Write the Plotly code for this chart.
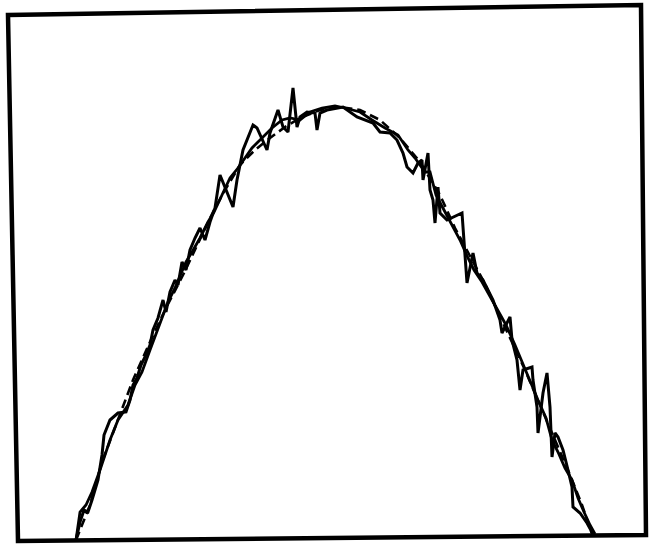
import plotly.graph_objects as go

# Noisy trace A
xa = [76, 80, 84, 88, 92, 98, 102, 104, 110, 118, 126, 130, 133, 137, 141, 146, 150, 153, 158, 163,
      166, 170, 175, 178, 182, 186, 190, 195, 200, 205, 210, 215, 220, 227, 233, 237, 243, 253, 257, 267,
      270, 278, 283, 288, 293, 297, 300, 307, 315, 317, 320, 327, 343, 357, 373, 380, 390, 397, 403, 407,
      413, 418, 422, 423, 428, 430, 433, 435, 438, 440, 447, 462, 467, 473, 477, 483, 493, 500, 502, 510,
      512, 517, 520, 523, 532, 533, 537, 538, 543, 547, 550, 552, 555, 558, 563, 568, 572, 573, 580, 587, 593]
ya = [0, 18, 30, 28, 40, 60, 85, 105, 120, 127, 128, 140, 155, 162, 175, 185, 195, 210, 222, 240,
      228, 248, 260, 255, 278, 270, 290, 302, 312, 300, 318, 332, 365, 347, 333, 360, 390, 415, 412, 390,
      407, 430, 413, 408, 452, 413, 423, 428, 427, 410, 427, 430, 433, 423, 417, 408, 407, 400, 387, 373,
      367, 377, 380, 360, 387, 350, 340, 317, 353, 327, 320, 327, 257, 287, 267, 260, 240, 220, 207, 223,
      200, 180, 150, 170, 173, 160, 133, 107, 147, 167, 133, 83, 107, 103, 90, 70, 53, 33, 27, 17, 6]

# Noisy trace B
xb = [76, 80, 86, 92, 100, 110, 118, 128, 135, 142, 150, 156, 162, 168, 175, 180, 186, 192, 200, 208,
      214, 222, 230, 238, 245, 252, 262, 272, 282, 290, 300, 310, 322, 335, 345, 360, 372, 385, 398, 408,
      415, 425, 430, 436, 444, 452, 460, 468, 474, 482, 490, 498, 506, 515, 522, 530, 538, 546, 552, 558,
      565, 572, 578, 584, 590, 595]
yb = [0, 28, 35, 48, 70, 100, 120, 135, 155, 168, 190, 205, 222, 238, 252, 264, 278, 288, 302, 318,
      328, 345, 362, 372, 382, 392, 402, 412, 420, 422, 420, 428, 432, 434, 432, 428, 420, 412, 405, 390,
      382, 368, 368, 345, 330, 315, 300, 282, 270, 258, 244, 230, 215, 195, 178, 160, 140, 122, 100, 88,
      72, 60, 42, 28, 15, 6]

# Smooth dashed fit
xd = [76, 90, 102, 118, 133, 150, 165, 183, 200, 213, 225, 240, 255, 270, 285, 300, 320, 340, 360, 380,
      400, 420, 440, 455, 470, 485, 497, 510, 525, 540, 555, 570, 582, 592]
yd = [0, 35, 78, 120, 160, 198, 230, 265, 300, 328, 350, 375, 390, 402, 413, 422, 430, 433, 430, 420,
      402, 378, 345, 312, 284, 256, 230, 202, 170, 135, 100, 65, 35, 6]

fig = go.Figure()
fig.add_trace(go.Scatter(x=xb, y=yb, mode="lines", line=dict(color="black", width=2.8), hoverinfo="skip"))
fig.add_trace(go.Scatter(x=xa, y=ya, mode="lines", line=dict(color="black", width=3), hoverinfo="skip"))
fig.add_trace(go.Scatter(x=xd, y=yd, mode="lines", line=dict(color="black", width=2.6, dash="9px,5px"), hoverinfo="skip"))

# Slightly tilted frame (scanned page)
fig.add_shape(type="path", path="M 8 525 L 641 535 L 646 5 L 18 -1 Z",
              line=dict(color="black", width=4.5), xref="x", yref="y")

fig.update_layout(
    width=649, height=545,
    margin=dict(l=0, r=0, t=0, b=0),
    paper_bgcolor="white", plot_bgcolor="white",
    showlegend=False,
    xaxis=dict(range=[0, 649], visible=False, fixedrange=True),
    yaxis=dict(range=[-5, 540], visible=False, fixedrange=True),
)

fig.write_html(
    "out.html",
    config={"displayModeBar": False},
    post_script="document.body.style.margin='0';document.body.style.overflow='hidden';",
)
